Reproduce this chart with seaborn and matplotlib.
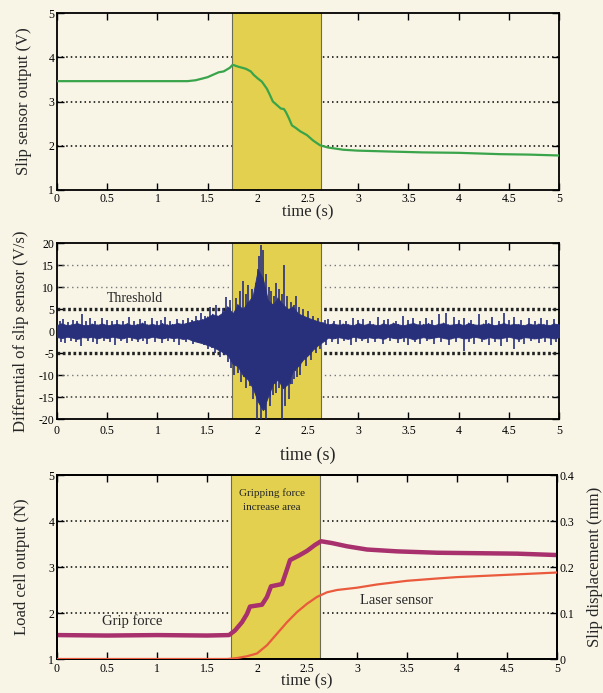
import numpy as np
import pandas as pd
import matplotlib
matplotlib.use("Agg")
import matplotlib.pyplot as plt
import seaborn as sns

# ---------------- data ----------------
x_ticks = [0, 0.5, 1, 1.5, 2, 2.5, 3, 3.5, 4, 4.5, 5]
x_tick_labels = ["0", "0.5", "1", "1.5", "2", "2.5", "3", "3.5", "4", "4.5", "5"]
span_start, span_end = 1.74, 2.63

# panel 1: slip sensor output (V)
slip_t = [0.0, 0.5, 1.0, 1.3, 1.38, 1.45, 1.5, 1.55, 1.61, 1.66, 1.69, 1.72, 1.75, 1.8, 1.88,
          1.93, 1.96, 2.0, 2.04, 2.09, 2.12, 2.15, 2.19, 2.23, 2.26, 2.28, 2.31, 2.34, 2.38,
          2.42, 2.49, 2.55, 2.62, 2.7, 2.76, 2.85, 2.99, 3.3, 3.64, 4.0, 4.41, 4.7, 5.0]
slip_v = [3.46, 3.46, 3.46, 3.46, 3.48, 3.52, 3.55, 3.6, 3.66, 3.68, 3.72, 3.76, 3.83, 3.79, 3.74,
          3.68, 3.6, 3.52, 3.45, 3.29, 3.15, 3.0, 2.92, 2.84, 2.83, 2.76, 2.62, 2.46, 2.4,
          2.33, 2.24, 2.12, 2.01, 1.96, 1.94, 1.91, 1.89, 1.87, 1.85, 1.84, 1.81, 1.8, 1.78]

# panel 2: differential of slip sensor (V/s) - core band envelope every 0.05 s
band_hi = [1.4, 1.7, 1.3, 1.5, 1.8, 1.4, 1.3, 1.6, 1.4, 1.7, 1.3, 1.5, 1.6, 1.4, 1.7, 1.3, 1.5, 1.8,
           1.4, 1.6, 1.3, 1.7, 1.4, 1.5, 1.8, 1.6, 1.9,
           2.2, 2.4, 2.6, 3.2, 3.8, 3.4, 4.2, 5.5, 4.0, 6.0, 5.0, 6.5, 8.0, 14.0, 12.0, 7.0, 6.0,
           7.5, 6.0, 5.0, 5.5, 4.0, 3.5, 3.0, 2.6, 2.2, 1.9,
           1.5, 1.7, 1.4, 1.6, 1.5, 1.3, 1.8, 1.4, 1.6, 1.5, 1.3, 1.7, 1.4, 1.8, 1.5, 1.3, 1.6,
           1.8, 1.4, 1.5, 1.7, 1.3, 1.6, 1.8, 1.4, 1.5, 1.7, 1.3, 1.8, 1.5, 1.4, 1.6, 1.7, 1.3,
           1.5, 1.8, 1.4, 1.6, 1.5, 1.3, 1.7, 1.4, 1.6, 1.5, 1.3, 1.7, 1.5]
band_lo = [-1.4, -1.6, -1.3, -1.5, -1.8, -1.4, -1.5, -1.3, -1.7, -1.4, -1.6, -1.3, -1.5, -1.7,
           -1.3, -1.5, -1.8, -1.4, -1.6, -1.3, -1.5, -1.7, -1.4, -1.6, -1.5, -1.8, -1.7,
           -2.2, -2.5, -2.8, -3.2, -3.6, -4.2, -4.8, -5.5, -7.5, -8.0, -10.0, -11.0, -13.0, -16.0,
           -18.0, -15.0, -12.0, -11.0, -13.0, -12.0, -9.0, -8.0, -6.5, -5.5, -4.2, -3.2, -2.4,
           -1.5, -1.7, -1.4, -1.6, -1.8, -1.3, -1.5, -1.7, -1.4, -1.6, -1.5, -1.8, -1.3, -1.6,
           -1.7, -1.4, -1.5, -1.9, -1.6, -1.4, -1.7, -1.5, -1.3, -1.6, -1.8, -1.5, -1.4, -1.7,
           -1.6, -1.3, -1.5, -1.8, -1.4, -1.6, -1.7, -1.5, -1.3, -1.6, -1.8, -1.4, -1.5, -1.7,
           -1.6, -1.4, -1.5, -1.7, -1.4]
# individual spikes (time s, value V/s)
spike_t = [0.03, 0.06, 0.11, 0.16, 0.2, 0.25, 0.29, 0.33, 0.38, 0.45, 0.5, 0.55, 0.6, 0.66,
           0.72, 0.77, 0.83, 0.88, 0.95, 1.0, 1.04, 1.08, 1.13, 1.2, 1.25, 1.3, 1.34, 1.38, 1.43,
           1.47,
           0.04, 0.08, 0.14, 0.19, 0.24, 0.31, 0.36, 0.4, 0.47, 0.53, 0.58, 0.64, 0.7, 0.75,
           0.81, 0.86, 0.9, 0.98, 1.05, 1.11, 1.17, 1.22, 1.28, 1.35, 1.41, 1.46, 1.5, 1.54, 1.57,
           1.52, 1.58, 1.65, 1.68, 1.72, 1.78, 1.82, 1.85, 1.88, 1.90, 1.94, 1.98, 2.01, 2.03,
           2.05, 2.08, 2.11, 2.13, 2.16, 2.18, 2.21, 2.24, 2.26, 2.29, 2.33, 2.36, 2.38, 2.41,
           2.45, 2.50, 2.55, 2.6,
           1.62, 1.66, 1.70, 1.73, 1.76, 1.80, 1.83, 1.86, 1.88, 1.92, 1.95, 1.99, 2.03, 2.06,
           2.08, 2.12, 2.15, 2.18, 2.21, 2.24, 2.27, 2.31, 2.34, 2.36, 2.39, 2.42, 2.48, 2.53,
           2.58, 2.62,
           2.67, 2.7, 2.76, 2.82, 2.88, 2.95, 3.0, 3.05, 3.12, 3.2, 3.26, 3.3, 3.38, 3.45, 3.5,
           3.55, 3.62, 3.68, 3.74, 3.8, 3.87, 3.95, 4.0, 4.05, 4.12, 4.2, 4.27, 4.33, 4.4, 4.45,
           4.5, 4.55, 4.62, 4.7, 4.76, 4.82, 4.88, 4.95,
           2.68, 2.74, 2.8, 2.86, 2.93, 2.98, 3.04, 3.1, 3.17, 3.25, 3.32, 3.4, 3.46, 3.5, 3.57,
           3.62, 3.69, 3.75, 3.82, 3.9, 3.97, 4.05, 4.1, 4.15, 4.23, 4.3, 4.36, 4.42, 4.48, 4.55,
           4.6, 4.65, 4.72, 4.8, 4.86, 4.92, 4.97]
spike_v = [2.3, 2.7, 2.1, 2.4, 2.2, 3.8, 2.3, 2.9, 2.2, 3.0, 2.4, 2.2, 2.6, 2.3,
           3.1, 2.2, 2.8, 2.3, 2.9, 2.2, 2.5, 3.2, 2.3, 2.7, 2.4, 3.0, 2.6, 3.3, 4.0,
           3.4,
           -2.4, -2.8, -2.2, -2.5, -3.3, -2.3, -2.6, -2.9, -2.2, -2.5, -3.1, -2.3, -2.7, -2.2,
           -2.5, -2.3, -3.0, -2.4, -2.8, -2.3, -2.6, -3.2, -2.4, -3.0, -2.7, -3.2, -4.0, -3.8,
           -5.0,
           5.5, 6.0, 5.2, 7.8, 7.0, 7.5, 9.0, 11.3, 8.5, 10.5, 9.5, 11.0, 17.0, 19.5,
           18.5, 13.0, 10.0, 9.0, 8.0, 11.0, 9.5, 8.5, 15.0, 8.0, 6.5, 6.0, 8.0, 5.5,
           5.0, 4.5, 3.5, 3.0,
           -6.0, -5.5, -7.0, -8.5, -10.0, -9.5, -11.5, -10.5, -13.0, -12.5, -15.5, -20.0, -20.0,
           -18.0, -20.0, -17.0, -14.5, -14.0, -13.0, -20.0, -17.0, -15.5, -12.0, -11.0, -10.5,
           -10.0, -8.0, -6.5, -5.0, -4.0,
           2.4, 2.8, 2.2, 2.6, 2.3, 3.0, 2.4, 2.7, 2.3, 3.2, 2.4, 2.8, 2.2, 3.3, 2.5,
           2.9, 2.3, 3.0, 2.5, 3.8, 4.1, 3.2, 2.5, 3.0, 2.4, 3.9, 2.6, 3.1, 2.3, 4.0,
           2.6, 3.2, 2.4, 2.9, 2.3, 3.0, 2.4, 2.8,
           -3.2, -2.4, -2.9, -2.3, -3.1, -2.5, -2.3, -2.7, -2.4, -3.0, -2.3, -2.8, -2.5, -3.2,
           -2.4, -3.0, -2.3, -2.9, -2.5, -3.1, -2.4, -4.5, -2.6, -3.0, -2.4, -3.2, -2.5, -3.4,
           -2.6, -4.2, -2.5, -3.0, -2.3, -2.8, -2.4, -3.1, -2.5]

# panel 3: grip force (N) and laser sensor (mm)
grip_t = [0.0, 0.5, 1.0, 1.5, 1.72, 1.78, 1.85, 1.90, 1.93, 2.05, 2.10, 2.14, 2.25, 2.30,
          2.33, 2.42, 2.50, 2.58, 2.64, 2.75, 2.90, 3.1, 3.4, 3.8, 4.2, 4.6, 5.0]
grip_v = [1.52, 1.51, 1.52, 1.51, 1.52, 1.62, 1.80, 1.98, 2.14, 2.18, 2.35, 2.58, 2.63, 2.95,
          3.15, 3.25, 3.35, 3.48, 3.56, 3.52, 3.45, 3.38, 3.34, 3.31, 3.30, 3.29, 3.26]
laser_t = [0.0, 1.0, 1.7, 1.8, 1.9, 2.0, 2.1, 2.2, 2.3, 2.4, 2.5, 2.6, 2.7, 2.8, 3.0, 3.2,
           3.5, 3.8, 4.0, 4.5, 5.0]
laser_v = [0.0, 0.0, 0.0, 0.002, 0.006, 0.012, 0.03, 0.055, 0.08, 0.102, 0.12, 0.135, 0.145,
           0.15, 0.155, 0.162, 0.17, 0.175, 0.178, 0.183, 0.188]

# ---------------- style ----------------
sns.set_theme(style="ticks")
plt.rcParams["font.family"] = ["Liberation Serif", "DejaVu Serif"]
BG = "#f8f5e7"
YELLOW = "#e2d04e"
EDGE = "#6b6a55"

fig = plt.figure(figsize=(6.03, 6.93), dpi=100, facecolor=BG)
W = 603.0
H = 693.0
ax1 = fig.add_axes([57 / W, 1 - 190 / H, 502 / W, 177 / H])
ax2 = fig.add_axes([57 / W, 1 - 419 / H, 502 / W, 176 / H])
ax3 = fig.add_axes([57 / W, 1 - 659 / H, 500 / W, 184 / H])


def style(ax, ylim, yticks, grid, grid_style, xpad):
    ax.set_facecolor(BG)
    ax.set_xlim(0, 5)
    ax.set_ylim(*ylim)
    ax.set_xticks(x_ticks)
    ax.set_xticklabels(x_tick_labels)
    ax.set_yticks(yticks)
    ax.set_yticklabels([f"{v:g}" for v in yticks])
    ax.tick_params(direction="in", top=True, right=True, length=5, width=1,
                   labelsize=8.5, pad=2, colors="black")
    ax.tick_params(axis="x", pad=xpad)
    for s in ax.spines.values():
        s.set_linewidth(1.3)
        s.set_color("black")
    for y, st in zip(grid, grid_style):
        ax.axhline(y, color=st[0], lw=st[1], ls=(0, st[2]), zorder=1)
    ax.axvspan(span_start, span_end, color=YELLOW, lw=0, zorder=1.5)
    for xv in (span_start, span_end):
        ax.axvline(xv, color=EDGE, lw=0.8, zorder=1.6)


dot = ("black", 1.1, (1, 2))
style(ax1, (1, 5), [1, 2, 3, 4, 5], [2, 3, 4], [dot, dot, dot], 2)
sns.lineplot(x=slip_t, y=slip_v, ax=ax1, color="#3aa44a", lw=1.6, zorder=3)
ax1.set_xlabel("time (s)", fontsize=12, labelpad=0)
ax1.set_ylabel("Slip sensor output (V)", fontsize=12, labelpad=12)

thr = ("#222222", 2.4, (0.8, 0.8))
lite = ("#777777", 1.0, (1, 2.5))
mid = ("#333333", 1.1, (1, 2))
style(ax2, (-20, 20), [-20, -15, -10, -5, 0, 5, 10, 15, 20],
      [-15, -10, -5, 5, 10, 15], [mid, lite, thr, thr, lite, lite], 4)
band_t = np.round(np.linspace(0, 5, len(band_hi)), 3)
NAVY = "#28307c"
ax2.fill_between(band_t, band_lo, band_hi, color=NAVY, lw=0.6, zorder=3)
zig = pd.DataFrame({
    "t": np.ravel(np.column_stack([band_t, band_t + 0.025]))[:-1],
    "v": np.ravel(np.column_stack([band_hi, band_lo]))[:-1],
})
sns.lineplot(data=zig, x="t", y="v", ax=ax2, color=NAVY, lw=0.8, zorder=3)
ax2.vlines(spike_t, 0, spike_v, color=NAVY, lw=1.2, zorder=3)
ax2.set_xlim(0, 5)
ax2.set_ylim(-20, 20)
ax2.set_xlabel("time (s)", fontsize=13, labelpad=7)
ax2.set_ylabel("Differntial of slip sensor (V/s)", fontsize=12, labelpad=7)
ax2.text(0.5, 7.4, "Threshold", fontsize=10, va="center", ha="left", zorder=4)

style(ax3, (1, 5), [1, 2, 3, 4, 5], [2, 3, 4], [dot, dot, dot], 3)
ax3.tick_params(right=False)
ax3b = ax3.twinx()
ax3b.set_ylim(0, 0.4)
ax3b.set_yticks([0, 0.1, 0.2, 0.3, 0.4])
ax3b.set_yticklabels(["0", "0.1", "0.2", "0.3", "0.4"])
ax3b.tick_params(direction="in", length=5, width=1, labelsize=8.5, pad=2, colors="black")
for s in ax3b.spines.values():
    s.set_linewidth(1.3)
    s.set_color("black")
sns.lineplot(x=grip_t, y=grip_v, ax=ax3, color="#a8306c", lw=3.2, zorder=3)
sns.lineplot(x=laser_t, y=laser_v, ax=ax3b, color="#ea5a3c", lw=1.6, zorder=3)
ax3b.set_ylabel("Slip displacement (mm)", fontsize=12, labelpad=9)
ax3.set_xlabel("time (s)", fontsize=12, labelpad=-1)
ax3.set_ylabel("Load cell output (N)", fontsize=12, labelpad=13)
ax3.text(2.15, 4.61, "Gripping force", fontsize=8, ha="center", va="center", zorder=4)
ax3.text(2.15, 4.29, "increase area", fontsize=8, ha="center", va="center", zorder=4)
ax3.text(0.45, 1.82, "Grip force", fontsize=10.5, ha="left", va="center", zorder=4)
ax3.text(3.03, 2.27, "Laser sensor", fontsize=10.5, ha="left", va="center", zorder=4)
ax3.set_xlim(0, 5)

fig.savefig("out.png", dpi=100, facecolor=BG)
